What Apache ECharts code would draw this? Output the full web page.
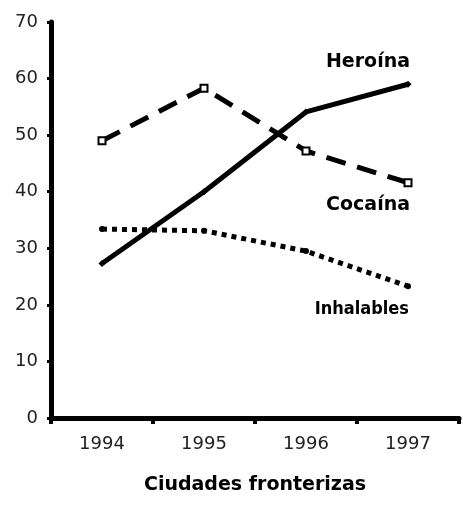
<!DOCTYPE html>
<html><head><meta charset="utf-8">
<script src="https://cdn.jsdelivr.net/npm/echarts@6/dist/echarts.min.js"></script>
<style>html,body{margin:0;padding:0;background:#fff}#c{width:463px;height:515px}</style>
</head><body><div id="c"></div>
<script>
var years = ['1994','1995','1996','1997'];
var heroina = [27.3, 40, 54.1, 59];
var cocaina = [49, 58.3, 47.2, 41.6];
var inhalables = [33.4, 33.1, 29.5, 23.3];
var yTicks = [0,10,20,30,40,50,60,70];
var xTitle = 'Ciudades fronterizas';

var font = 'DejaVu Sans';
function lastLabel(arr, text, pos, off, size, extra){
  return arr.map(function(v,i){
    if(i!==arr.length-1) return v;
    return {value:v, label:Object.assign({show:true, formatter:text, position:pos, offset:off,
      color:'#000', fontFamily:font, fontWeight:'bold', fontSize:size, align:'right'}, extra||{})};
  });
}
var chart = echarts.init(document.getElementById('c'));
chart.setOption({
  backgroundColor:'#fff',
  animation:false,
  grid:{left:51, right:4, top:22, bottom:97},
  xAxis:{type:'category', data:years, boundaryGap:true,
    axisLine:{lineStyle:{color:'#000', width:5}},
    axisTick:{show:true, length:6, lineStyle:{color:'#000', width:4}},
    axisLabel:{color:'#222', fontFamily:font, fontSize:18, margin:17},
    name:xTitle, nameLocation:'middle', nameGap:58,
    nameTextStyle:{color:'#000', fontFamily:font, fontWeight:'bold', fontSize:19}},
  yAxis:{type:'value', min:0, max:70, interval:10,
    axisLine:{show:true, lineStyle:{color:'#000', width:5}},
    axisTick:{show:true, length:4, lineStyle:{color:'#000', width:3}},
    splitLine:{show:false},
    axisLabel:{color:'#222', fontFamily:font, fontSize:18, margin:13,
      formatter:function(v){return yTicks.indexOf(v)>=0? String(v):'';}}},
  series:[
    {name:'Heroína', type:'line', data:lastLabel(heroina,'Heroína','top',[2,-4],19),
      lineStyle:{color:'#000', width:5, type:'solid'}, symbol:'diamond', symbolSize:7,
      itemStyle:{color:'#000'}},
    {name:'Cocaína', type:'line', data:lastLabel(cocaina,'Cocaína','bottom',[2,3],19),
      lineStyle:{color:'#000', width:5, type:[20,12]}, symbol:'rect', symbolSize:7,
      itemStyle:{color:'#fff', borderColor:'#000', borderWidth:2}},
    {name:'Inhalables', type:'line', data:lastLabel(inhalables,'Inhalables','bottom',[1,6],18,{fontFamily:'DejaVu Sans Condensed'}),
      lineStyle:{color:'#000', width:5, type:[5,5]}, symbol:'circle', symbolSize:6,
      itemStyle:{color:'#000'}}
  ]
});
</script></body></html>
